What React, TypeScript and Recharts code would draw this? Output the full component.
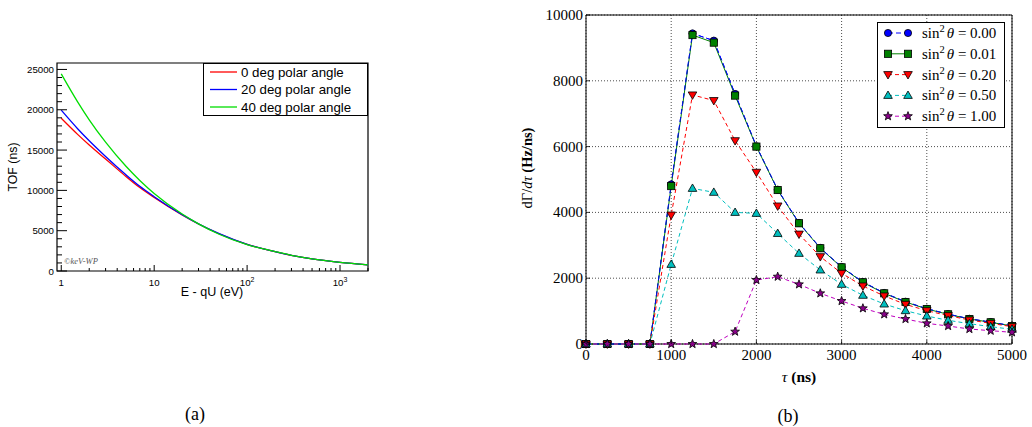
import React from 'react';
import { LineChart, Line, XAxis, YAxis, CartesianGrid, ReferenceArea, Legend, Label } from 'recharts';

const SANS = '"Liberation Sans", Arial, Helvetica, sans-serif';
const SERIF = '"Liberation Serif", "Times New Roman", serif';

// ---- (a) time of flight vs. surplus energy ----
const energies = [1, 1.5, 2, 3, 5, 7, 10, 20, 30, 50, 100, 200, 300, 500, 1000, 2000];
const tofDeg0 = [18950, 16950, 15630, 13890, 11700, 10350, 9120, 6950, 5830, 4620, 3300, 2400, 1940, 1495, 1075, 765];
const tofDeg20 = [19950, 17650, 16150, 14200, 11900, 10500, 9220, 6990, 5850, 4630, 3305, 2402, 1942, 1497, 1076, 766];
const tofDeg40 = [24450, 20980, 18755, 15975, 12955, 11235, 9625, 7065, 5850, 4560, 3265, 2410, 1950, 1500, 1078, 768];
const angleLabels = ['0 deg polar angle', '20 deg polar angle', '40 deg polar angle'];
const angleColors = ['#ff0000', '#0000ff', '#00dd00'];
const energyMajor = [1, 10, 100, 1000];
const energyMinor = [2, 3, 4, 5, 6, 7, 8, 9, 20, 30, 40, 50, 60, 70, 80, 90, 200, 300, 400, 500, 600, 700, 800, 900, 2000];
const energyLabels = ['1', '10', '10|2', '10|3'];
const tofMajor = [0, 5000, 10000, 15000, 20000, 25000];
const tofTicks = Array.from({ length: 26 }, (_, i) => i * 1000);

// ---- (b) rate vs. time of flight ----
const tau = [0, 250, 500, 750, 1000, 1250, 1500, 1750, 2000, 2250, 2500, 2750, 3000, 3250, 3500, 3750, 4000, 4250, 4500, 4750, 5000];
const rateS000 = [0, 0, 0, 0, 4850, 9440, 9220, 7600, 6010, 4690, 3680, 2920, 2340, 1885, 1550, 1285, 1072, 908, 766, 665, 552];
const rateS001 = [0, 0, 0, 0, 4800, 9390, 9160, 7550, 6000, 4680, 3670, 2910, 2330, 1875, 1540, 1277, 1064, 902, 760, 660, 547];
const rateS020 = [0, 0, 0, 0, 3920, 7570, 7400, 6180, 5220, 4195, 3340, 2655, 2150, 1763, 1460, 1205, 1013, 862, 730, 628, 527];
const rateS050 = [0, 0, 0, 0, 2420, 4730, 4610, 4000, 3970, 3360, 2755, 2250, 1813, 1480, 1215, 1013, 850, 720, 618, 527, 446];
const rateS100 = [0, 0, 0, 0, 0, 0, 0, 375, 1945, 2046, 1813, 1540, 1307, 1085, 902, 760, 628, 547, 456, 405, 355];
const sinValues = ['0.00', '0.01', '0.20', '0.50', '1.00'];
const tauTicks = [0, 1000, 2000, 3000, 4000, 5000];
const rateTicks = [0, 2000, 4000, 6000, 8000, 10000];

const tofData = energies.map((e, i) => ({ e, t0: tofDeg0[i], t20: tofDeg20[i], t40: tofDeg40[i] }));
const rateData = tau.map((t, i) => ({
  t,
  s000: rateS000[i],
  s001: rateS001[i],
  s020: rateS020[i],
  s050: rateS050[i],
  s100: rateS100[i],
}));

const tofSeries = [
  { key: 't0', color: angleColors[0], label: angleLabels[0] },
  { key: 't20', color: angleColors[1], label: angleLabels[1] },
  { key: 't40', color: angleColors[2], label: angleLabels[2] },
];

const rateSeries = [
  { key: 's000', color: '#0000ff', fill: '#0000ff', marker: 'circle', dash: '5 3', label: sinValues[0] },
  { key: 's001', color: '#008000', fill: '#008000', marker: 'square', dash: undefined, label: sinValues[1] },
  { key: 's020', color: '#ff0000', fill: '#ff0000', marker: 'tridown', dash: '4 3', label: sinValues[2] },
  { key: 's050', color: '#00bfbf', fill: '#00bfbf', marker: 'triup', dash: '4 3', label: sinValues[3] },
  { key: 's100', color: '#bf00bf', fill: '#8a008a', marker: 'star', dash: '4 3', label: sinValues[4] },
];

function starPath(cx: number, cy: number, R: number, r: number) {
  let d = '';
  for (let i = 0; i < 10; i++) {
    const rad = i % 2 === 0 ? R : r;
    const a = -Math.PI / 2 + (i * Math.PI) / 5;
    d += (i ? 'L' : 'M') + (cx + rad * Math.cos(a)).toFixed(2) + ',' + (cy + rad * Math.sin(a)).toFixed(2);
  }
  return d + 'Z';
}

function Marker({ kind, cx, cy, fill }: { kind: string; cx: number; cy: number; fill: string }) {
  const edge = { stroke: '#000', strokeWidth: 0.8, fill };
  if (cx == null || cy == null) return null;
  switch (kind) {
    case 'circle':
      return <circle cx={cx} cy={cy} r={3.6} {...edge} />;
    case 'square':
      return <rect x={cx - 3.6} y={cy - 3.6} width={7.2} height={7.2} {...edge} />;
    case 'tridown':
      return <polygon points={`${cx - 4.3},${cy - 3} ${cx + 4.3},${cy - 3} ${cx},${cy + 4.4}`} {...edge} />;
    case 'triup':
      return <polygon points={`${cx - 4.3},${cy + 3} ${cx + 4.3},${cy + 3} ${cx},${cy - 4.4}`} {...edge} />;
    default:
      return <path d={starPath(cx, cy, 4.6, 1.9)} {...edge} />;
  }
}

// ---------- ticks for (a): ROOT style, inward ----------
const EnergyTick = (props: any) => {
  const { x, y, payload } = props;
  const idx = energyMajor.indexOf(payload.value);
  const major = idx >= 0;
  const [base, sup] = major ? energyLabels[idx].split('|') : ['', ''];
  return (
    <g>
      <line x1={x} y1={y} x2={x} y2={y - (major ? 6 : 3)} stroke="#000" strokeWidth={1} />
      {major && (
        <text x={x} y={y + 15} textAnchor="middle" fontFamily={SANS} fontSize={9.7} fill="#000">
          {base}
          {sup && (
            <tspan dy={-4} fontSize={7}>
              {sup}
            </tspan>
          )}
        </text>
      )}
    </g>
  );
};

const TofTick = (props: any) => {
  const { x, y, payload } = props;
  const major = tofMajor.includes(payload.value);
  return (
    <g>
      <line x1={x} y1={y} x2={x + (major ? 10 : 5)} y2={y} stroke="#000" strokeWidth={1} />
      {major && (
        <text x={x - 3} y={y} dy={3.5} textAnchor="end" fontFamily={SANS} fontSize={9.7} fill="#000">
          {payload.value}
        </text>
      )}
    </g>
  );
};

// ---------- ticks for (b): matplotlib style, inward on all sides ----------
const TauTick = (props: any) => {
  const { x, y, payload } = props;
  return (
    <g>
      <line x1={x} y1={y} x2={x} y2={y - 4} stroke="#000" strokeWidth={0.8} />
      <text x={x} y={y + 16} textAnchor="middle" fontFamily={SERIF} fontSize={15} fill="#000">
        {payload.value}
      </text>
    </g>
  );
};
const TauTopTick = (props: any) => {
  const { x, y } = props;
  return <line x1={x} y1={y} x2={x} y2={y + 4} stroke="#000" strokeWidth={0.8} />;
};
const RateTick = (props: any) => {
  const { x, y, payload } = props;
  return (
    <g>
      <line x1={x} y1={y} x2={x + 4} y2={y} stroke="#000" strokeWidth={0.8} />
      <text x={x - 3} y={y} dy={5} textAnchor="end" fontFamily={SERIF} fontSize={15} fill="#000">
        {payload.value}
      </text>
    </g>
  );
};
const RateRightTick = (props: any) => {
  const { x, y } = props;
  return <line x1={x} y1={y} x2={x - 4} y2={y} stroke="#000" strokeWidth={0.8} />;
};

const TofLegend = () => (
  <svg width={165} height={53}>
    <rect x={0.5} y={0.5} width={164} height={52} fill="#fff" stroke="#000" strokeWidth={1} />
    {tofSeries.map((s, i) => {
      const yy = 9 + i * 17.5;
      return (
        <g key={s.key}>
          <line x1={7} y1={yy} x2={34} y2={yy} stroke={s.color} strokeWidth={1.3} />
          <text x={38} y={yy} dy={4.6} fontFamily={SANS} fontSize={13.3} fill="#000">
            {s.label}
          </text>
        </g>
      );
    })}
  </svg>
);

const RateLegend = () => (
  <svg width={128} height={106}>
    <rect x={0.5} y={0.5} width={127} height={105} fill="#fff" stroke="#000" strokeWidth={1} />
    {rateSeries.map((s, i) => {
      const yy = 11 + i * 20.8;
      return (
        <g key={s.key}>
          <line x1={11} y1={yy} x2={31} y2={yy} stroke={s.color} strokeWidth={1} strokeDasharray={s.dash} />
          <Marker kind={s.marker} cx={11} cy={yy} fill={s.fill} />
          <Marker kind={s.marker} cx={31} cy={yy} fill={s.fill} />
          <text x={45} y={yy} dy={5} fontFamily={SERIF} fontSize={15} fill="#000">
            sin
            <tspan dy={-6} fontSize={10.5}>2</tspan>
            <tspan dy={6} dx={2} fontStyle="italic">θ</tspan>
            <tspan> = {s.label}</tspan>
          </text>
        </g>
      );
    })}
  </svg>
);

function TofChart() {
  return (
    <LineChart width={380} height={310} data={tofData} margin={{ top: 63, right: 12, left: 0, bottom: 0 }}>
      <XAxis
        dataKey="e"
        type="number"
        scale="log"
        domain={[0.9, 2000]}
        ticks={[...energyMajor, ...energyMinor].sort((a, b) => a - b)}
        interval={0}
        tickSize={0}
        tickMargin={0}
        axisLine={false}
        height={39}
        tick={EnergyTick}
        label={
          <Label
            content={() => (
              <text x={212} y={296} textAnchor="middle" fontFamily={SANS} fontSize={12.5} fill="#000">
                E - qU (eV)
              </text>
            )}
          />
        }
      />
      <YAxis
        type="number"
        domain={[0, 25800]}
        ticks={tofTicks}
        interval={0}
        tickSize={0}
        tickMargin={0}
        axisLine={false}
        width={57}
        tick={TofTick}
        label={
          <Label
            content={() => (
              <text
                transform="translate(13,167) rotate(-90)"
                dy={4.3}
                textAnchor="middle"
                fontFamily={SANS}
                fontSize={12.3}
                fill="#000"
              >
                TOF (ns)
              </text>
            )}
          />
        }
      />
      <ReferenceArea x1={0.9} x2={2000} y1={0} y2={25800} fill="none" stroke="#000" strokeWidth={1.2} ifOverflow="visible" />
      {tofSeries.map((s) => (
        <Line
          key={s.key}
          type="monotone"
          dataKey={s.key}
          stroke={s.color}
          strokeWidth={1.3}
          dot={false}
          isAnimationActive={false}
        />
      ))}
      <Legend
        layout="vertical"
        align="center"
        verticalAlign="middle"
        content={TofLegend}
        wrapperStyle={{ left: 203, top: 63, width: 165, height: 53 }}
      />
    </LineChart>
  );
}

function RateChart() {
  const dotFor = (s: (typeof rateSeries)[number]) => (p: any) =>
    <Marker key={`${s.key}-${p.index}`} kind={s.marker} cx={p.cx} cy={p.cy} fill={s.fill} />;
  const blue = rateSeries[0];
  return (
    <LineChart width={512} height={427} data={rateData} margin={{ top: 15, right: 20, left: 0, bottom: 53 }}>
      <CartesianGrid stroke="#000" strokeDasharray="1 2" strokeWidth={0.7} />
      <XAxis
        dataKey="t"
        type="number"
        domain={[0, 5000]}
        ticks={tauTicks}
        interval={0}
        tickSize={0}
        tickMargin={0}
        axisLine={false}
        height={30}
        tick={TauTick}
        label={
          <Label
            content={() => (
              <text x={279} y={382} textAnchor="middle" fontFamily={SERIF} fontSize={15.5} fill="#000">
                <tspan fontStyle="italic">τ</tspan>
                <tspan fontWeight="bold"> (ns)</tspan>
              </text>
            )}
          />
        }
      />
      <XAxis
        xAxisId="top"
        orientation="top"
        type="number"
        domain={[0, 5000]}
        ticks={tauTicks}
        interval={0}
        tickSize={0}
        tickMargin={0}
        axisLine={false}
        height={0}
        tick={TauTopTick}
      />
      <YAxis
        type="number"
        domain={[0, 10000]}
        ticks={rateTicks}
        interval={0}
        tickSize={0}
        tickMargin={0}
        axisLine={false}
        width={66}
        tick={RateTick}
        label={
          <Label
            content={() => (
              <text
                transform="translate(7,168) rotate(-90)"
                dy={5}
                textAnchor="middle"
                fontFamily={SERIF}
                fontSize={14.5}
                fill="#000"
              >
                <tspan>dΓ/</tspan>
                <tspan fontStyle="italic">dτ</tspan>
                <tspan fontWeight="bold"> (Hz/ns)</tspan>
              </text>
            )}
          />
        }
      />
      <YAxis
        yAxisId="right"
        orientation="right"
        type="number"
        domain={[0, 10000]}
        ticks={rateTicks}
        interval={0}
        tickSize={0}
        tickMargin={0}
        axisLine={false}
        width={0}
        tick={RateRightTick}
      />
      <ReferenceArea x1={0} x2={5000} y1={0} y2={10000} fill="none" stroke="#000" strokeWidth={1} ifOverflow="visible" />
      {rateSeries.slice(0, 2).map((s) => (
        <Line
          key={s.key}
          type="linear"
          dataKey={s.key}
          stroke={s.color}
          strokeWidth={1}
          strokeDasharray={s.dash}
          dot={dotFor(s)}
          activeDot={false}
          isAnimationActive={false}
        />
      ))}
      <Line
        key="s000-over"
        type="linear"
        dataKey={blue.key}
        stroke={blue.color}
        strokeWidth={0.9}
        strokeDasharray={blue.dash}
        dot={false}
        activeDot={false}
        legendType="none"
        isAnimationActive={false}
      />
      {rateSeries.slice(2).map((s) => (
        <Line
          key={s.key}
          type="linear"
          dataKey={s.key}
          stroke={s.color}
          strokeWidth={1}
          strokeDasharray={s.dash}
          dot={dotFor(s)}
          activeDot={false}
          isAnimationActive={false}
        />
      ))}
      <Legend
        layout="vertical"
        align="center"
        verticalAlign="middle"
        content={RateLegend}
        wrapperStyle={{ left: 357, top: 22, width: 128, height: 106 }}
      />
    </LineChart>
  );
}

export default function App() {
  return (
    <div style={{ position: 'absolute', left: 0, top: 0, width: 1032, height: 427, background: '#fff' }}>
      <div style={{ position: 'absolute', left: 0, top: 0 }}>
        <TofChart />
      </div>
      <div
        style={{
          position: 'absolute',
          left: 64,
          top: 256,
          fontFamily: SERIF,
          fontStyle: 'italic',
          fontSize: 8.5,
          color: '#555',
        }}
      >
        ©keV-WP
      </div>
      <div style={{ position: 'absolute', left: 520, top: 0 }}>
        <RateChart />
      </div>
      <div
        style={{
          position: 'absolute',
          left: 165,
          top: 404,
          width: 60,
          textAlign: 'center',
          fontFamily: SERIF,
          fontSize: 18,
          lineHeight: '20px',
        }}
      >
        (a)
      </div>
      <div
        style={{
          position: 'absolute',
          left: 758,
          top: 406,
          width: 60,
          textAlign: 'center',
          fontFamily: SERIF,
          fontSize: 18,
          lineHeight: '20px',
        }}
      >
        (b)
      </div>
    </div>
  );
}
